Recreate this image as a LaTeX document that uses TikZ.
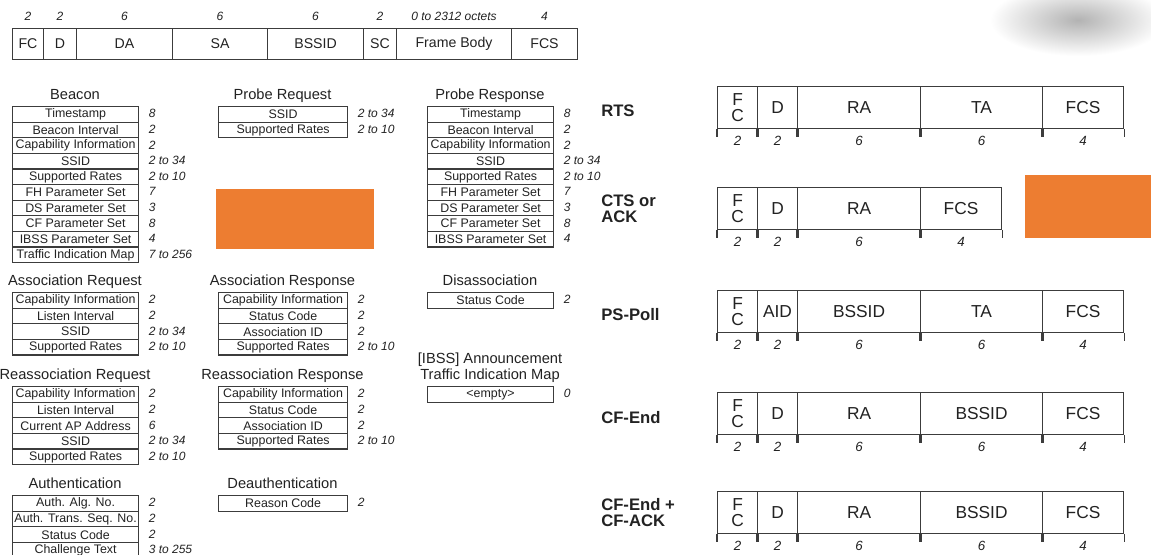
\documentclass[tikz,border=0pt]{standalone}
\usepackage{fontspec}
\setmainfont{Liberation Sans}
\definecolor{ln}{HTML}{3C3C3C}
\definecolor{tx}{HTML}{222222}
\definecolor{org}{HTML}{ED7D31}
\tikzset{
  fld/.style={draw=ln, line width=0.9pt, inner sep=0pt, anchor=north west, text=tx,
    font=\fontsize{9.3}{9.5}\selectfont},
  mtitle/.style={inner sep=0pt, anchor=base, text=tx, font=\fontsize{11}{12}\selectfont},
  num/.style={inner sep=0pt, anchor=west, text=tx, font=\fontsize{9}{9}\selectfont\itshape},
  hfld/.style={draw=ln, line width=0.8pt, inner sep=0pt, anchor=north west, text=tx,
    font=\fontsize{10.6}{12}\selectfont},
  hnum/.style={inner sep=0pt, text=tx, font=\fontsize{9}{9}\selectfont\itshape},
  cfld/.style={draw=ln, line width=0.8pt, inner sep=0pt, anchor=north west, text=tx, align=center,
    font=\fontsize{13}{12.5}\selectfont},
  cnum/.style={inner sep=0pt, text=tx, font=\fontsize{10}{10}\selectfont\itshape},
  tick/.style={draw=ln, line width=0.8pt},
  clabel/.style={inner sep=0pt, anchor=west, align=left, text=tx, font=\fontsize{12.5}{12}\selectfont\bfseries},
  orangebox/.style={fill=org, draw=none}
}
% management frame table: #1 name, #2 x-left, #3 x-right, #4 y-top, #5 title, #6 list
\newcommand\mgmt[6]{%
  \node[mtitle] (#1-t) at ({(#2+#3)/2}, #4-7) {#5};
  \foreach \f/\n [count=\i] in {#6} {
    \pgfmathsetmacro\ya{#4+(\i-1)*15.6}
    \node[fld, minimum width={(#3-#2)*0.75pt}, minimum height=11.7pt] (#1-\i) at (#2,\ya) {\f};
    \node[num] (#1-n\i) at ([xshift=7pt,yshift=0.5pt]#1-\i.east) {\n};
  }
}
% control frame: #1 name, #2 y-top, #3 list field/xa/xb/num
\newcommand\ctrl[3]{%
  \foreach \f/\xa/\xb/\n [count=\i] in {#3} {
    \node[cfld, minimum width={(\xb-\xa)*0.75pt}, minimum height=31.5pt] (#1-\i) at (\xa,#2) {\f};
    \draw[tick] (#1-\i.south west) -- ++(0,8);
    \draw[tick] (#1-\i.south east) -- ++(0,8);
    \node[cnum] (#1-n\i) at ([yshift=-9pt]#1-\i.south) {\n};
  }
}
\begin{document}
\begin{tikzpicture}[x=0.75pt,y=-0.75pt]
\clip (0,0) rectangle (1151,554);
\fill[white] (0,0) rectangle (1151,554);
% blurred grey blob, top right
\shade[inner color=black!30, outer color=white] (1078,20) ellipse [x radius=88, y radius=36];

% general frame header
\foreach \f/\xa/\xb/\n [count=\i] in {FC/12/43/2, D/43/76/2, DA/76/172/6, SA/172/267/6, BSSID/267/363/6, SC/363/396/2, Frame Body/396/511/0 to 2312 octets, FCS/511/577/4} {
  \node[hfld, minimum width={(\xb-\xa)*0.75pt}, minimum height=23pt] (h-\i) at (\xa,28) {\f};
  \node[hnum] (h-n\i) at ([yshift=8.5pt]h-\i.north) {\n};
}

% management frames
\mgmt{bea}{12}{138}{106}{Beacon}{Timestamp/8, Beacon Interval/2, Capability Information/2, SSID/2 to 34, Supported Rates/2 to 10, FH Parameter Set/7, DS Parameter Set/3, CF Parameter Set/8, IBSS Parameter Set/4, Traffic Indication Map/7 to 256}
\mgmt{prq}{218}{347}{106}{Probe Request}{SSID/2 to 34, Supported Rates/2 to 10}
\mgmt{prs}{427}{553}{106}{Probe Response}{Timestamp/8, Beacon Interval/2, Capability Information/2, SSID/2 to 34, Supported Rates/2 to 10, FH Parameter Set/7, DS Parameter Set/3, CF Parameter Set/8, IBSS Parameter Set/4}
\mgmt{asq}{12}{138}{292}{Association Request}{Capability Information/2, Listen Interval/2, SSID/2 to 34, Supported Rates/2 to 10}
\mgmt{asr}{218}{347}{292}{Association Response}{Capability Information/2, Status Code/2, Association ID/2, Supported Rates/2 to 10}
\mgmt{dis}{427}{553}{292}{Disassociation}{Status Code/2}
\mgmt{raq}{12}{138}{386}{Reassociation Request}{Capability Information/2, Listen Interval/2, Current AP Address/6, SSID/2 to 34, Supported Rates/2 to 10}
\mgmt{rar}{218}{347}{386}{Reassociation Response}{Capability Information/2, Status Code/2, Association ID/2, Supported Rates/2 to 10}
\mgmt{atim}{427}{553}{386}{Traffic Indication Map}{<empty>/0}
\node[mtitle] (atim-t2) at ([yshift=11.5pt]atim-t.base) {[IBSS] Announcement};
\mgmt{aut}{12}{138}{495}{Authentication}{Auth. Alg. No./2, Auth. Trans. Seq. No./2, Status Code/2, Challenge Text/3 to 255}
\mgmt{dea}{218}{347}{495}{Deauthentication}{Reason Code/2}

% orange boxes
\fill[orangebox] (216,189) rectangle (374,249);
\fill[orangebox] (1025,175) rectangle (1151,238);

% control frames
\ctrl{rts}{86}{{F\\C}/717/757/2, D/757/797/2, RA/797/920/6, TA/920/1042/6, FCS/1042/1123/4}
\ctrl{cts}{187}{{F\\C}/717/757/2, D/757/797/2, RA/797/920/6, FCS/920/1001/4}
\ctrl{ps}{290}{{F\\C}/717/757/2, AID/757/797/2, BSSID/797/920/6, TA/920/1042/6, FCS/1042/1123/4}
\ctrl{cfe}{392}{{F\\C}/717/757/2, D/757/797/2, RA/797/920/6, BSSID/920/1042/6, FCS/1042/1123/4}
\ctrl{cfa}{491}{{F\\C}/717/757/2, D/757/797/2, RA/797/920/6, BSSID/920/1042/6, FCS/1042/1123/4}

\node[clabel] (l-rts) at (601,111) {RTS};
\node[clabel] (l-cts) at (601,209) {CTS or\\ACK};
\node[clabel] (l-ps) at (601,315) {PS-Poll};
\node[clabel] (l-cfe) at (601,418) {CF-End};
\node[clabel] (l-cfa) at (601,513) {CF-End +\\CF-ACK};
\end{tikzpicture}
\end{document}
